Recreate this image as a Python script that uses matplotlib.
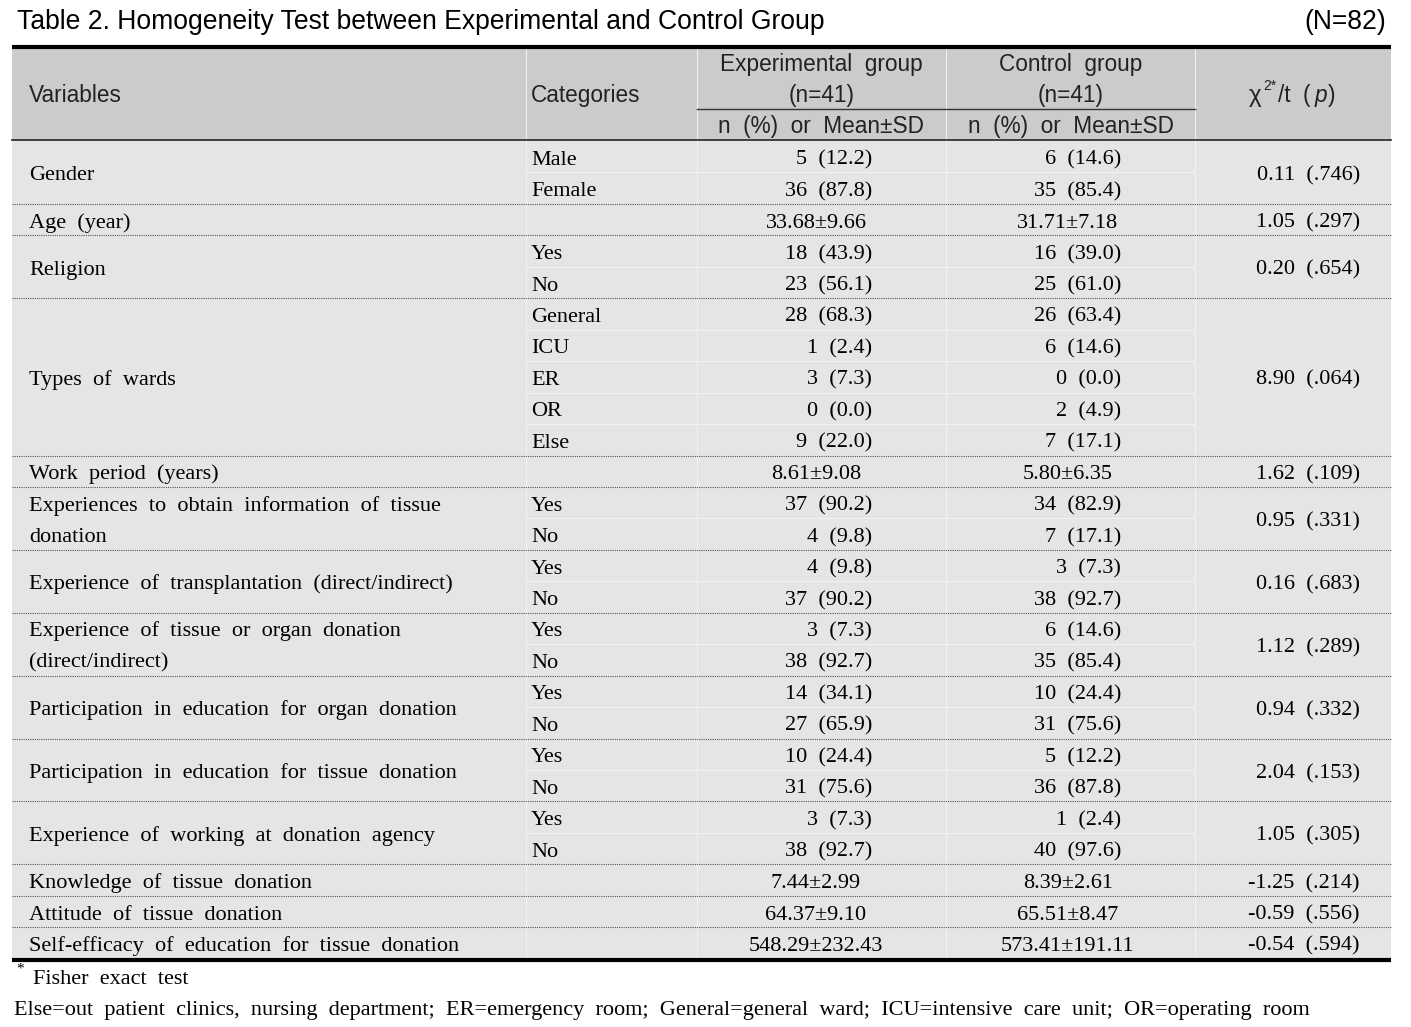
import matplotlib
matplotlib.use("Agg")
import matplotlib.pyplot as plt

title = "Table 2. Homogeneity Test between Experimental and Control Group"
n_total = "(N=82)"
col_headers = ["Variables", "Categories", "Experimental group", "Control group"]
group_n = ["(n=41)", "(n=41)"]
sub_header = "n (%) or Mean±SD"

var_names = [
    "Gender", "Age (year)", "Religion", "Types of wards", "Work period (years)",
    "Experiences to obtain information of tissue\ndonation",
    "Experience of transplantation (direct/indirect)",
    "Experience of tissue or organ donation\n(direct/indirect)",
    "Participation in education for organ donation",
    "Participation in education for tissue donation",
    "Experience of working at donation agency",
    "Knowledge of tissue donation", "Attitude of tissue donation",
    "Self-efficacy of education for tissue donation",
]
categories = [
    ["Male", "Female"], [""], ["Yes", "No"], ["General", "ICU", "ER", "OR", "Else"], [""],
    ["Yes", "No"], ["Yes", "No"], ["Yes", "No"], ["Yes", "No"], ["Yes", "No"], ["Yes", "No"],
    [""], [""], [""],
]
exp_vals = [
    ["5 (12.2)", "36 (87.8)"], ["33.68±9.66"], ["18 (43.9)", "23 (56.1)"],
    ["28 (68.3)", "1 (2.4)", "3 (7.3)", "0 (0.0)", "9 (22.0)"], ["8.61±9.08"],
    ["37 (90.2)", "4 (9.8)"], ["4 (9.8)", "37 (90.2)"], ["3 (7.3)", "38 (92.7)"],
    ["14 (34.1)", "27 (65.9)"], ["10 (24.4)", "31 (75.6)"], ["3 (7.3)", "38 (92.7)"],
    ["7.44±2.99"], ["64.37±9.10"], ["548.29±232.43"],
]
ctrl_vals = [
    ["6 (14.6)", "35 (85.4)"], ["31.71±7.18"], ["16 (39.0)", "25 (61.0)"],
    ["26 (63.4)", "6 (14.6)", "0 (0.0)", "2 (4.9)", "7 (17.1)"], ["5.80±6.35"],
    ["34 (82.9)", "7 (17.1)"], ["3 (7.3)", "38 (92.7)"], ["6 (14.6)", "35 (85.4)"],
    ["10 (24.4)", "31 (75.6)"], ["5 (12.2)", "36 (87.8)"], ["1 (2.4)", "40 (97.6)"],
    ["8.39±2.61"], ["65.51±8.47"], ["573.41±191.11"],
]
stats = [
    "0.11 (.746)", "1.05 (.297)", "0.20 (.654)", "8.90 (.064)", "1.62 (.109)",
    "0.95 (.331)", "0.16 (.683)", "1.12 (.289)", "0.94 (.332)", "2.04 (.153)",
    "1.05 (.305)", "-1.25 (.214)", "-0.59 (.556)", "-0.54 (.594)",
]
footnote1 = "Fisher exact test"
footnote2 = ("Else=out patient clinics, nursing department; ER=emergency room; "
             "General=general ward; ICU=intensive care unit; OR=operating room")

W, H = 1411, 1027
fig = plt.figure(figsize=(W / 100, H / 100), dpi=100)
ax = fig.add_axes([0, 0, 1, 1])
ax.set_xlim(0, W)
ax.set_ylim(H, 0)
ax.axis("off")

SANS = "Liberation Sans"
SERIF = "Liberation Serif"
FS = 16.0
HFS = 16.3
HCOL = "#222222"
BODY_DY = 8.0   # baseline offset from row centre (serif)
HDR_DY = 8.0    # baseline offset (sans)


def sp(s):
    return s.replace(" ", "  ")


x0, x1 = 12, 1391
cx = [12, 526, 697, 946, 1195, 1391]
top, hdr_bot = 47, 140
body_top = 141
row_h = 31.45
n_rows = sum(len(c) for c in categories)
body_bot = body_top + n_rows * row_h

header_bg = "#cbcbcb"
body_bg = "#e5e5e5"

ax.add_patch(plt.Rectangle((x0, top), x1 - x0, hdr_bot - top, color=header_bg, lw=0, zorder=0))
ax.add_patch(plt.Rectangle((x0, body_top), x1 - x0, body_bot - body_top, color=body_bg, lw=0, zorder=0))

# faint white verticals
for xv in cx[1:5]:
    ax.plot([xv, xv], [top + 2, body_bot], color="#f3f3f3", lw=0.7, zorder=1)

ax.plot([x0, x1], [top, top], color="black", lw=3, solid_capstyle="butt", zorder=3)
ax.plot([x0, x1], [hdr_bot, hdr_bot], color="#333333", lw=1.3, zorder=3)
ax.plot([cx[2], cx[4]], [109, 109], color="#333333", lw=1.0, zorder=3)
ax.plot([x0, x1], [body_bot + 1, body_bot + 1], color="black", lw=3, solid_capstyle="butt", zorder=3)

# title
ax.text(17, 29, title, fontsize=19.1, family=SANS, va="baseline", ha="left", color="black")
ax.text(1386, 29, n_total, fontsize=19.1, family=SANS, va="baseline", ha="right", color="black")

# headers
ax.text(29, 94 + HDR_DY, col_headers[0], fontsize=HFS, family=SANS, va="baseline", ha="left", color=HCOL)
ax.text(531, 94 + HDR_DY, col_headers[1], fontsize=HFS, family=SANS, va="baseline", ha="left", color=HCOL)
for i, (c0, c1) in enumerate([(cx[2], cx[3]), (cx[3], cx[4])]):
    mid = (c0 + c1) / 2
    ax.text(mid, 63 + HDR_DY, sp(col_headers[2 + i]), fontsize=HFS, family=SANS, va="baseline", ha="center", color=HCOL)
    ax.text(mid, 94 + HDR_DY, group_n[i], fontsize=HFS, family=SANS, va="baseline", ha="center", color=HCOL)
    ax.text(mid, 125 + HDR_DY, sp(sub_header), fontsize=HFS, family=SANS, va="baseline", ha="center", color=HCOL)
# chi-square / t header built from pieces
ax.text(1249, 94 + HDR_DY, "χ", fontsize=HFS + 1, family=SANS, va="baseline", ha="left", color=HCOL)
ax.text(1263, 90, "2*", fontsize=10, family=SANS, va="baseline", ha="left", color=HCOL)
ax.text(1278, 94 + HDR_DY, "/t  (", fontsize=HFS, family=SANS, va="baseline", ha="left", color=HCOL)
ax.text(1315, 94 + HDR_DY, "p", fontsize=HFS, family=SANS, va="baseline", ha="left", color=HCOL, style="italic")
ax.text(1328, 94 + HDR_DY, ")", fontsize=HFS, family=SANS, va="baseline", ha="left", color=HCOL)

# body
r = 0
for gi, name in enumerate(var_names):
    nsub = len(categories[gi])
    g_top = body_top + r * row_h
    g_bot = g_top + nsub * row_h
    g_mid = (g_top + g_bot) / 2
    lines = name.split("\n")
    nl = len(lines)
    for li, ln in enumerate(lines):
        y = g_mid + (li - (nl - 1) / 2) * row_h
        ax.text(29, y + BODY_DY, sp(ln), fontsize=FS, family=SERIF, va="baseline", ha="left")
    for si in range(nsub):
        y = g_top + (si + 0.5) * row_h + BODY_DY
        cat = categories[gi][si]
        if cat:
            ax.text(531, y, cat, fontsize=FS, family=SERIF, va="baseline", ha="left")
        for vals, right, center in [(exp_vals, 872, 816), (ctrl_vals, 1121, 1068)]:
            v = vals[gi][si]
            if "±" in v:
                ax.text(center, y, v, fontsize=FS, family=SERIF, va="baseline", ha="center")
            else:
                ax.text(right, y, sp(v), fontsize=FS, family=SERIF, va="baseline", ha="right")
        if si > 0:
            ax.plot([cx[1], cx[4]], [g_top + si * row_h] * 2, color="#f3f3f3", lw=0.7, zorder=1)
    ax.text(1360, g_mid + BODY_DY, sp(stats[gi]), fontsize=FS, family=SERIF, va="baseline", ha="right")
    if gi < len(var_names) - 1:
        ax.plot([x0, x1], [g_bot, g_bot], color="#555555", lw=0.8, ls=(0, (1, 1)), zorder=2)
    r += nsub

ax.text(16, 973, "*", fontsize=11, family=SERIF, va="baseline", ha="left")
ax.text(33, 976 + BODY_DY, sp(footnote1), fontsize=FS, family=SERIF, va="baseline", ha="left")
ax.text(14, 1007 + BODY_DY, sp(footnote2), fontsize=FS, family=SERIF, va="baseline", ha="left")

fig.savefig("out.png", dpi=100)
